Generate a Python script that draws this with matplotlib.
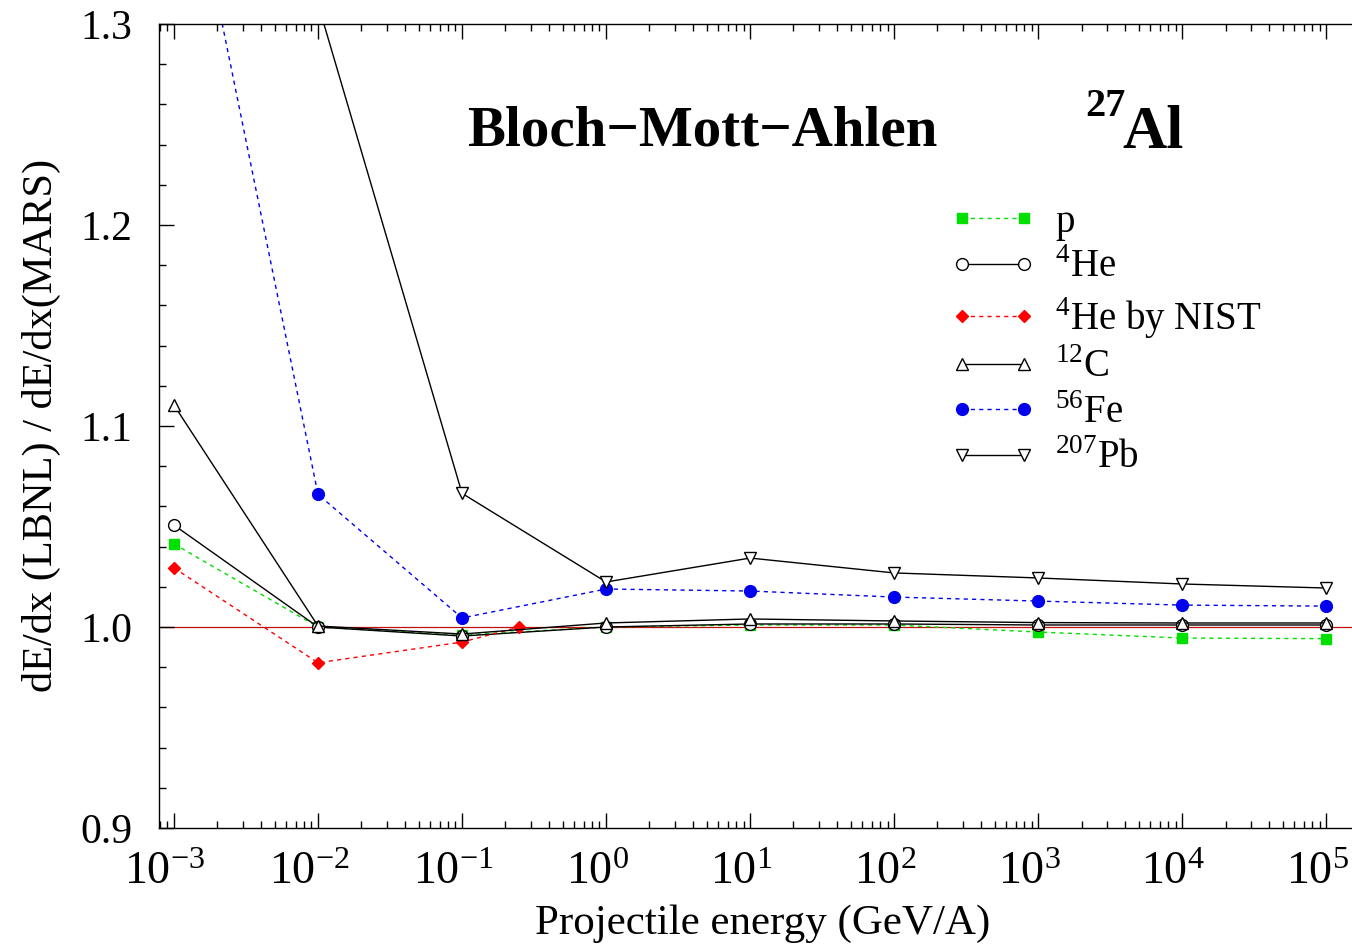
import numpy as np
import matplotlib
matplotlib.use("Agg")
import matplotlib.pyplot as plt
import matplotlib.transforms as mtransforms
from matplotlib.ticker import LogLocator, MultipleLocator, NullFormatter

plt.rcParams["font.family"] = ["Liberation Serif", "DejaVu Serif"]
plt.rcParams["mathtext.fontset"] = "custom"
plt.rcParams["mathtext.rm"] = "Liberation Serif"
plt.rcParams["mathtext.bf"] = "Liberation Serif:bold"

# energies (GeV/A)
energy = [1e-3, 1e-2, 1e-1, 1, 10, 100, 1e3, 1e4, 1e5]
energy_nist = [1e-3, 1e-2, 1e-1, 0.25]

# ratio dE/dx(LBNL) / dE/dx(MARS)
ratio_p = [1.0413, 1.0000, 0.9960, 1.0000, 1.0010, 1.0010, 0.9975, 0.9945, 0.9942]
ratio_he = [1.0507, 1.0000, 0.9955, 1.0000, 1.0015, 1.0015, 1.0010, 1.0010, 1.0010]
ratio_he_nist = [1.0294, 0.9822, 0.9925, 1.0000]
ratio_c = [1.1104, 1.0005, 0.9965, 1.0020, 1.0040, 1.0030, 1.0022, 1.0020, 1.0020]
ratio_fe = [1.418, 1.0660, 1.0045, 1.0189, 1.0179, 1.0149, 1.0129, 1.0109, 1.0104]
ratio_pb = [1.60, 1.310, 1.0665, 1.0224, 1.0343, 1.0269, 1.0244, 1.0214, 1.0194]

fig = plt.figure(figsize=(13.52, 9.49), dpi=100)
ax = fig.add_axes([0.1176, 0.1275, 0.8824, 0.8472])

ax.axhline(1.0, color="#c01010", lw=0.9, zorder=1)

ax.plot(energy, ratio_p, ls=(0, (3, 3)), color="#00e000", lw=1.0, marker="s",
        ms=6.5, mfc="#00e000", mec="#00e000", label="p")
ax.plot(energy, ratio_he, ls="-", color="black", lw=1.0, marker="o",
        ms=8.5, mfc="white", mec="black", mew=1.0, label=r"$^{4}$He")
ax.plot(energy_nist, ratio_he_nist, ls=(0, (3, 3)), color="red", lw=1.0, marker="D",
        ms=6, mfc="red", mec="red", label=r"$^{4}$He by NIST")
ax.plot(energy, ratio_c, ls="-", color="black", lw=1.0, marker="^",
        ms=9, mfc="white", mec="black", mew=1.0, label=r"$^{12}$C")
ax.plot(energy, ratio_fe, ls=(0, (3, 3)), color="#0000ee", lw=1.0, marker="o",
        ms=8.5, mfc="#0000ee", mec="#0000ee", label=r"$^{56}$Fe")
ax.plot(energy, ratio_pb, ls="-", color="black", lw=1.0, marker="v",
        ms=9, mfc="white", mec="black", mew=1.0, label=r"$^{207}$Pb")

ax.set_xscale("log")
ax.set_xlim(7.87e-4, 1.51e5)
ax.set_ylim(0.9, 1.3)

ax.xaxis.set_major_locator(LogLocator(base=10, numticks=20))
ax.xaxis.set_minor_locator(LogLocator(base=10, subs=np.arange(2, 10), numticks=20))
ax.xaxis.set_minor_formatter(NullFormatter())
ax.yaxis.set_major_locator(MultipleLocator(0.1))
ax.yaxis.set_minor_locator(MultipleLocator(0.02))
ax.yaxis.set_major_formatter(plt.FuncFormatter(lambda v, p: f"{v:.1f}"))

ax.tick_params(which="both", direction="in", top=True, right=False)
ax.tick_params(which="major", length=11, width=1.0)
ax.tick_params(which="minor", length=5, width=1.0)
ax.tick_params(axis="x", labelsize=33, pad=17)
ax.tick_params(axis="y", labelsize=30, pad=19)
ax.spines["right"].set_visible(False)
for s in ax.spines.values():
    s.set_linewidth(1.0)

ax.set_xlabel("Projectile energy (GeV/A)", fontsize=31)
ax.xaxis.set_label_coords(0.506, -0.095)
ax.set_ylabel("dE/dx (LBNL) / dE/dx(MARS)", fontsize=30.5)
ax.yaxis.set_label_coords(-0.082, 0.501)

fig.text(467 / 1352, 1 - 145 / 949, "Bloch\u2212Mott\u2212Ahlen",
         fontsize=41, fontweight="bold", ha="left", va="baseline")
fig.text(1122 / 1352, 1 - 148 / 949, "Al",
         fontsize=44, fontweight="bold", ha="left", va="baseline")
fig.text(1085 / 1352, 1 - 116 / 949, "27",
         fontsize=29, fontweight="bold", ha="left", va="baseline")

leg = ax.legend(loc="upper left", bbox_to_anchor=(0.65, 0.796), frameon=False,
                fontsize=28, numpoints=2, handlelength=2.2, handletextpad=0.5,
                labelspacing=0.22, borderaxespad=0)

# shift the decade labels a little left, as in the original
fig.canvas.draw()
shift = mtransforms.ScaledTranslation(-9 / 100, 0, fig.dpi_scale_trans)
for t in ax.xaxis.get_major_ticks():
    t.label1.set_transform(t.label1.get_transform() + shift)

fig.savefig("out.png", dpi=100)
